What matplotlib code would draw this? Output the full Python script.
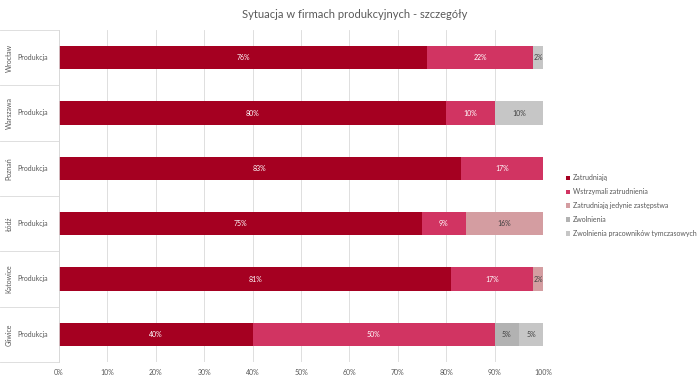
import matplotlib
matplotlib.use("Agg")
import matplotlib.pyplot as plt
import matplotlib.transforms as mtransforms
import numpy as np

plt.rcParams['font.family'] = ['Lato', 'DejaVu Sans']

# ------------------------------------------------------------------
# data (percent), cities top to bottom
# ------------------------------------------------------------------
cities = ["Wrocław", "Warszawa", "Poznań", "Łódź", "Katowice", "Gliwice"]
sector = "Produkcja"

zatrudniaja = [76, 80, 83, 75, 81, 40]
wstrzymali  = [22, 10, 17, 9, 17, 50]
zastepstwa  = [0, 0, 0, 16, 2, 0]
zwolnienia  = [0, 0, 0, 0, 0, 5]
tymczasowi  = [2, 10, 0, 0, 0, 5]

series_names = ["Zatrudniają", "Wstrzymali zatrudnienia",
                "Zatrudniają jedynie zastępstwa", "Zwolnienia",
                "Zwolnienia pracowników tymczasowych"]
series = [zatrudniaja, wstrzymali, zastepstwa, zwolnienia, tymczasowi]
colors = ["#A50021", "#D13462", "#D49DA1", "#B2B2B2", "#C6C6C6"]
text_colors = ["white", "white", "#404040", "#404040", "#404040"]

x_ticks = np.arange(0, 101, 10)

# ------------------------------------------------------------------
fig = plt.figure(figsize=(7.0, 3.82), dpi=100)
ax = fig.add_axes([59 / 700, 1 - 362 / 382, 484 / 700, 332 / 382])

y = np.arange(len(cities))
left = np.zeros(len(cities))
for vals, name, col, tcol in zip(series, series_names, colors, text_colors):
    vals = np.array(vals, dtype=float)
    ax.barh(y, vals, left=left, height=0.42, color=col, label=name, zorder=2)
    for yi, (l, v) in enumerate(zip(left, vals)):
        if v > 0:
            ax.text(l + v / 2, yi, f"{v:.0f}%", ha="center", va="center",
                    fontsize=5, color=tcol, zorder=3)
    left += vals

ax.set_xlim(0, 100)
ax.set_ylim(len(cities) - 0.5, -0.5)
ax.set_xticks(x_ticks)
ax.set_xticklabels([f"{t}%" for t in x_ticks], fontsize=5, color="#595959")
ax.tick_params(axis="x", length=0, pad=5)
ax.set_yticks([])
ax.grid(axis="x", color="#D9D9D9", lw=0.6, zorder=0)
for s in ["top", "right", "bottom"]:
    ax.spines[s].set_visible(False)
ax.spines["left"].set_color("#D9D9D9")
ax.spines["left"].set_linewidth(0.6)

# left category box: city (rotated) + sector
trans = mtransforms.blended_transform_factory(fig.transFigure, ax.transData)
for yi, city in enumerate(cities):
    ax.text(9 / 700, yi, city, transform=trans, rotation=90,
            ha="center", va="center", fontsize=5, color="#595959")
    ax.text(33 / 700, yi, sector, transform=trans,
            ha="center", va="center", fontsize=5, color="#595959")
for b in np.arange(-0.5, len(cities), 1.0):
    ax.plot([0, 59 / 700], [b, b], transform=trans, color="#D9D9D9",
            lw=0.6, clip_on=False)

fig.text(355 / 700, 1 - 14 / 382, "Sytuacja w firmach produkcyjnych - szczegóły",
         ha="center", va="center", fontsize=8, color="#595959")

leg = ax.legend(loc="upper left", bbox_to_anchor=(560 / 700, 1 - 168 / 382),
                bbox_transform=fig.transFigure, frameon=False, fontsize=5,
                handlelength=0.6, handleheight=0.6, handletextpad=0.4,
                labelspacing=1.0, labelcolor="#595959")

fig.savefig("out.png", dpi=100)
